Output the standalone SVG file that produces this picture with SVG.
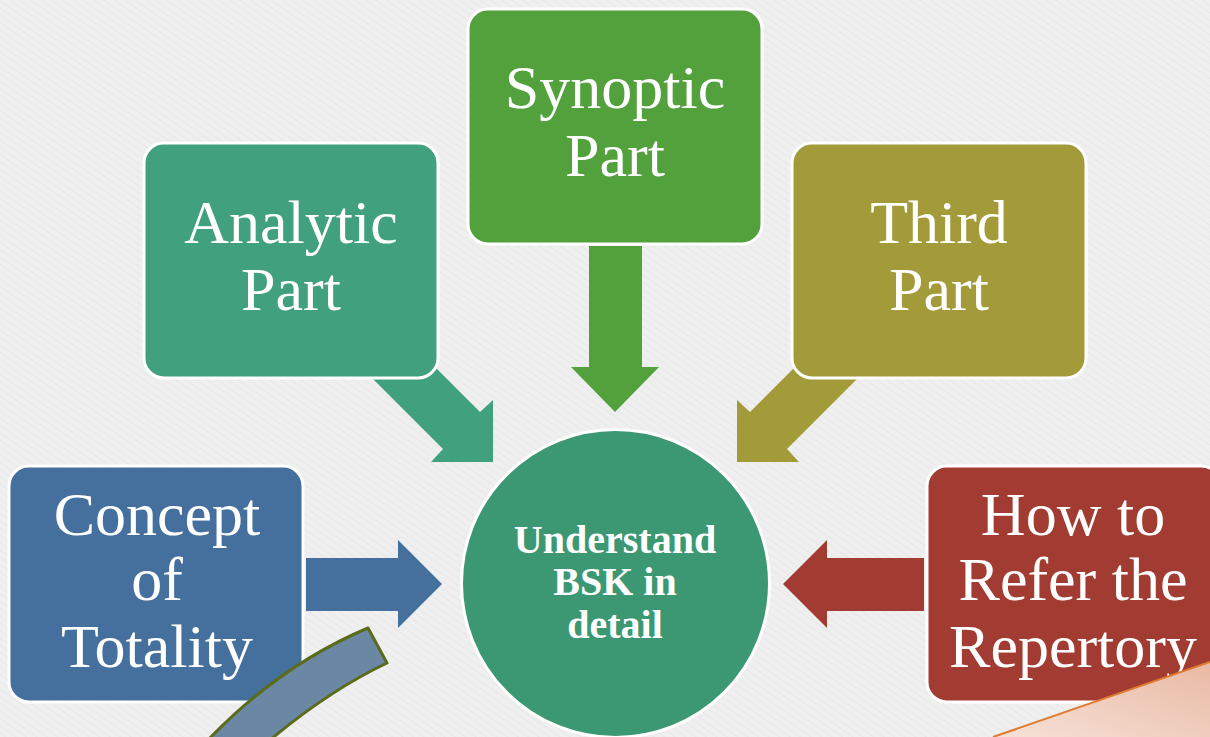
<svg xmlns="http://www.w3.org/2000/svg" width="1210" height="737" viewBox="0 0 1210 737">
  <defs>
    <pattern id="tex" width="6" height="6" patternUnits="userSpaceOnUse" patternTransform="rotate(35)">
      <rect width="6" height="6" fill="#EFEFEF"/>
      <line x1="0" y1="0" x2="6" y2="0" stroke="#E6E6E6" stroke-width="1.5"/>
    </pattern>
    <linearGradient id="salmon" x1="0" y1="1" x2="1" y2="0">
      <stop offset="0" stop-color="#F6E2D8"/>
      <stop offset="1" stop-color="#E9B9A3"/>
    </linearGradient>
    <style>
      .box { stroke: #FFFFFF; stroke-width: 3; }
      .lbl { font-family: "Liberation Serif", "DejaVu Serif", serif; font-size: 62px; fill: #FFFFFF; text-anchor: middle; }
      .ctr { font-family: "Liberation Serif", "DejaVu Serif", serif; font-size: 40px; font-weight: bold; fill: #FFFFFF; text-anchor: middle; }
    </style>
  </defs>

  <rect width="1210" height="737" fill="url(#tex)"/>

  <g id="connectors">
    <!-- Analytic -> center -->
    <polygon fill="#41A07D" points="367,373 443,449 431,462 493,462 493,400 480,412 404,336"/>
    <!-- Synoptic -> center -->
    <polygon fill="#53A13C" points="589,246 642,246 642,367 659,367 615,412 571,367 589,367"/>
    <!-- Third -> center -->
    <polygon fill="#A39B3A" points="863,373 787,449 799,462 737,462 737,400 750,412 826,336"/>
    <!-- Concept -> center -->
    <polygon fill="#45709E" points="306,558 398,558 398,540 442,584 398,628 398,611 306,611"/>
    <!-- How to -> center -->
    <polygon fill="#A23C33" points="924,558 827,558 827,540 783,584 827,628 827,611 924,611"/>
  </g>

  <g id="node-synoptic">
    <rect class="box" x="468" y="9" width="294" height="235" rx="20" fill="#53A13C"/>
    <text class="lbl" x="615" y="108">Synoptic</text>
    <text class="lbl" x="615" y="176">Part</text>
  </g>
  <g id="node-analytic">
    <rect class="box" x="144" y="143" width="294" height="235" rx="20" fill="#41A07D"/>
    <text class="lbl" x="291" y="243">Analytic</text>
    <text class="lbl" x="291" y="310">Part</text>
  </g>
  <g id="node-third">
    <rect class="box" x="792" y="143" width="294" height="235" rx="20" fill="#A39B3A"/>
    <text class="lbl" x="939" y="243">Third</text>
    <text class="lbl" x="939" y="310">Part</text>
  </g>
  <g id="node-concept">
    <rect class="box" x="9" y="466" width="294" height="236" rx="20" fill="#45709E"/>
    <text class="lbl" x="157" y="535">Concept</text>
    <text class="lbl" x="157" y="600">of</text>
    <text class="lbl" x="157" y="667">Totality</text>
  </g>
  <g id="node-howto">
    <rect class="box" x="927" y="466" width="294" height="236" rx="20" fill="#A23C33"/>
    <text class="lbl" x="1073" y="535">How to</text>
    <text class="lbl" x="1073" y="600">Refer the</text>
    <text class="lbl" x="1073" y="667">Repertory</text>
  </g>
  <g id="node-center">
    <circle cx="615.5" cy="583.5" r="154" fill="#3C9872" stroke="#FFFFFF" stroke-width="3"/>
    <text class="ctr" x="615" y="553">Understand</text>
    <text class="ctr" x="615" y="595">BSK in</text>
    <text class="ctr" x="615" y="638">detail</text>
  </g>

  <!-- decorative shapes -->
  <path d="M368,628 L387,663 Q330,690 270,740 L208,740 Q280,665 368,628 Z" fill="#6A87A4" stroke="#5B6B1A" stroke-width="3" stroke-linejoin="round"/>
  <polygon points="993,737 1210,662 1210,737" fill="url(#salmon)"/>
  <line x1="993" y1="737" x2="1210" y2="662" stroke="#E07A30" stroke-width="2"/>
</svg>
